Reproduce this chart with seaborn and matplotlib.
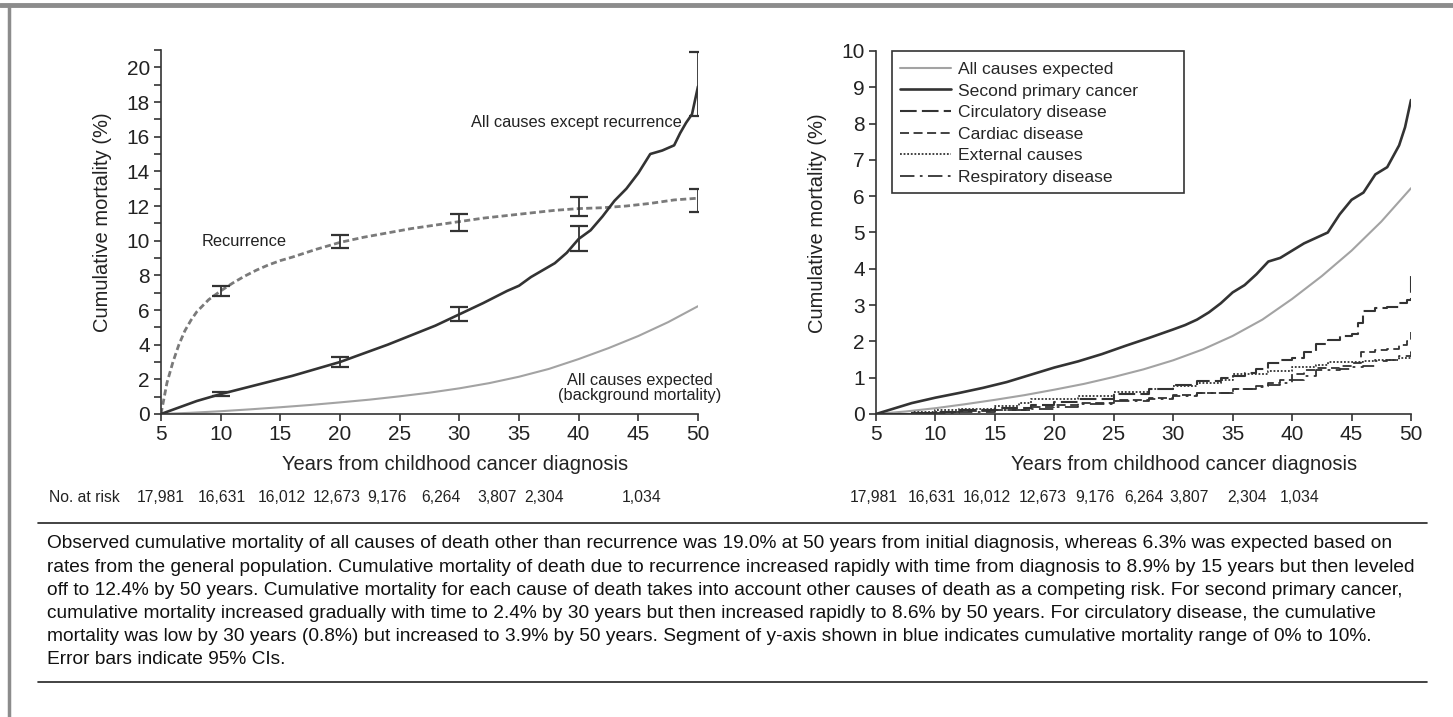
import numpy as np
import pandas as pd
import matplotlib
matplotlib.use("Agg")
import matplotlib.pyplot as plt
from matplotlib.lines import Line2D
from matplotlib.patches import Rectangle
import seaborn as sns

# ---- data ----
ticks_years = [5, 10, 15, 20, 25, 30, 35, 40, 45, 50]

exp_x = [5, 7.5, 10, 12.5, 15, 17.5, 20, 22.5, 25, 27.5, 30, 32.5, 35, 37.5, 40, 42.5, 45, 47.5, 50]
exp_y = [0, 0.07, 0.16, 0.27, 0.39, 0.52, 0.67, 0.83, 1.02, 1.23, 1.48, 1.78, 2.15, 2.6, 3.17, 3.8, 4.5, 5.3, 6.22]

other_x = [5, 6, 7, 8, 9, 10, 12, 14, 16, 18, 20, 22, 24, 26, 28, 30, 32, 34, 35, 36, 37, 38, 39, 40,
           41, 42, 43, 44, 45, 46, 47, 48, 48.5, 49, 49.5, 50]
other_y = [0, 0.25, 0.5, 0.75, 0.95, 1.15, 1.5, 1.85, 2.2, 2.6, 3.0, 3.5, 4.0, 4.55, 5.1, 5.75, 6.4, 7.1,
           7.4, 7.9, 8.3, 8.7, 9.3, 10.1, 10.6, 11.4, 12.3, 13.0, 13.9, 15.0, 15.2, 15.5, 16.2, 16.8, 17.3, 18.9]

recur_x = [5, 5.5, 6, 6.5, 7, 7.5, 8, 9, 10, 11, 12, 13, 14, 15, 16, 18, 20, 22, 24, 26, 28, 30, 32, 34,
           36, 38, 40, 42, 44, 46, 48, 50]
recur_y = [0, 1.8, 3.0, 4.0, 4.8, 5.4, 5.9, 6.6, 7.1, 7.55, 7.95, 8.3, 8.6, 8.85, 9.05, 9.5, 9.9, 10.2,
           10.45, 10.7, 10.9, 11.1, 11.3, 11.45, 11.6, 11.75, 11.85, 11.9, 12.0, 12.15, 12.35, 12.45]

ci_x = [10, 20, 30, 40, 50]
other_lo = [1.05, 2.7, 5.35, 9.4, 17.2]
other_hi = [1.25, 3.3, 6.2, 10.85, 20.9]
recur_lo = [6.8, 9.55, 10.55, 11.4, 11.65]
recur_hi = [7.4, 10.3, 11.55, 12.5, 13.0]

spc_x = [5, 6, 7, 8, 10, 12, 14, 16, 18, 20, 22, 24, 26, 28, 30, 31, 32, 33, 34, 35, 36, 37, 38, 39,
         40, 41, 42, 43, 44, 45, 46, 47, 48, 49, 49.5, 50]
spc_y = [0, 0.1, 0.2, 0.3, 0.45, 0.58, 0.72, 0.88, 1.08, 1.28, 1.45, 1.65, 1.88, 2.1, 2.33, 2.45, 2.6,
         2.8, 3.05, 3.35, 3.55, 3.85, 4.2, 4.3, 4.5, 4.7, 4.85, 5.0, 5.5, 5.9, 6.1, 6.6, 6.8, 7.4, 7.9, 8.65]

circ_x = [5, 8, 10, 12, 15, 18, 20, 22, 25, 28, 30, 32, 34, 35, 36, 37, 38, 39, 40, 41, 42, 43, 44, 45,
          45.5, 46, 47, 48, 49, 49.7, 50]
circ_y = [0, 0.03, 0.06, 0.1, 0.16, 0.25, 0.32, 0.42, 0.55, 0.68, 0.8, 0.9, 0.98, 1.05, 1.12, 1.25, 1.4,
          1.48, 1.55, 1.72, 1.92, 2.05, 2.15, 2.2, 2.5, 2.85, 2.92, 2.95, 3.05, 3.15, 3.9]

card_x = [5, 8, 10, 12, 15, 18, 20, 22, 25, 28, 30, 32, 35, 37, 38, 39, 40, 41, 42, 44, 45, 45.8, 47,
          48, 49, 49.7, 50]
card_y = [0, 0.02, 0.05, 0.08, 0.12, 0.2, 0.25, 0.3, 0.38, 0.45, 0.52, 0.58, 0.7, 0.78, 0.85, 0.95,
          1.1, 1.2, 1.28, 1.33, 1.4, 1.7, 1.75, 1.8, 1.9, 2.0, 2.25]

ext_x = [5, 8, 10, 12, 15, 17, 18, 20, 22, 25, 28, 30, 32, 34, 35, 38, 40, 42, 43, 46, 47, 49, 50]
ext_y = [0, 0.05, 0.1, 0.15, 0.22, 0.3, 0.4, 0.42, 0.5, 0.6, 0.7, 0.78, 0.85, 0.95, 1.1, 1.18, 1.3,
         1.35, 1.42, 1.45, 1.48, 1.55, 1.75]

resp_x = [5, 8, 10, 12, 15, 18, 20, 22, 25, 28, 30, 32, 35, 37, 38, 39, 40, 41, 42, 44, 45, 46, 47,
          48, 49, 50]
resp_y = [0, 0.02, 0.04, 0.06, 0.1, 0.15, 0.2, 0.27, 0.35, 0.42, 0.5, 0.58, 0.68, 0.75, 0.8, 0.85,
          0.95, 1.05, 1.2, 1.25, 1.3, 1.32, 1.45, 1.5, 1.6, 1.7]

at_risk = ["17,981", "16,631", "16,012", "12,673", "9,176", "6,264", "3,807", "2,304", "1,034"]
at_risk_pos_left = [5.0, 10.1, 15.1, 19.7, 23.9, 28.5, 33.2, 37.1, 45.3]
at_risk_pos_right = [4.8, 9.7, 14.3, 19.0, 23.4, 27.5, 31.3, 36.2, 40.6]

caption = [
    "Observed cumulative mortality of all causes of death other than recurrence was 19.0% at 50 years from initial diagnosis, whereas 6.3% was expected based on",
    "rates from the general population. Cumulative mortality of death due to recurrence increased rapidly with time from diagnosis to 8.9% by 15 years but then leveled",
    "off to 12.4% by 50 years. Cumulative mortality for each cause of death takes into account other causes of death as a competing risk. For second primary cancer,",
    "cumulative mortality increased gradually with time to 2.4% by 30 years but then increased rapidly to 8.6% by 50 years. For circulatory disease, the cumulative",
    "mortality was low by 30 years (0.8%) but increased to 3.9% by 50 years. Segment of y-axis shown in blue indicates cumulative mortality range of 0% to 10%.",
    "Error bars indicate 95% CIs.",
]

sns.set_style("ticks")
plt.rcParams["font.family"] = ["Liberation Sans", "DejaVu Sans"]

DARK = "#333333"
GREY = "#a3a3a3"
W, H = 1453, 717

fig = plt.figure(figsize=(W / 100, H / 100), dpi=100)
ax1 = fig.add_axes([161 / W, 1 - 414 / H, 537 / W, 364 / H])
ax2 = fig.add_axes([876 / W, 1 - 414 / H, 535 / W, 363 / H])

# ---- left panel ----
sns.lineplot(x=exp_x, y=exp_y, ax=ax1, color=GREY, lw=1.5)
sns.lineplot(x=recur_x, y=recur_y, ax=ax1, color="#7a7a7a", lw=2.0, linestyle=(0, (2.2, 1.2)))
sns.lineplot(x=other_x, y=other_y, ax=ax1, color=DARK, lw=1.9)

o_lo, o_hi = np.array(other_lo), np.array(other_hi)
r_lo, r_hi = np.array(recur_lo), np.array(recur_hi)
ax1.errorbar(ci_x, (o_lo + o_hi) / 2, yerr=(o_hi - o_lo) / 2, fmt="none", ecolor=DARK,
             elinewidth=1.3, capsize=6.5, capthick=1.6)
ax1.errorbar(ci_x, (r_lo + r_hi) / 2, yerr=(r_hi - r_lo) / 2, fmt="none", ecolor=DARK,
             elinewidth=1.3, capsize=6.5, capthick=1.6)

ax1.set_xlim(5, 50)
ax1.set_ylim(0, 21)
ax1.set_xticks(ticks_years)
ax1.set_yticks(np.arange(0, 21, 2))
ax1.set_yticks(np.arange(1, 22, 2), minor=True)
ax1.text(48.6, 16.8, "All causes except recurrence", ha="right", va="center", fontsize=11.8, color="#222")
ax1.text(8.4, 9.95, "Recurrence", ha="left", va="center", fontsize=11.8, color="#222")
ax1.text(45.1, 1.5, "All causes expected\n(background mortality)", ha="center", va="center",
         fontsize=11.8, color="#222", linespacing=1.05, clip_on=False)

# ---- right panel ----
sns.lineplot(x=exp_x, y=exp_y, ax=ax2, color=GREY, lw=1.5, label="All causes expected")
sns.lineplot(x=spc_x, y=spc_y, ax=ax2, color=DARK, lw=1.9, label="Second primary cancer")
sns.lineplot(x=circ_x, y=circ_y, ax=ax2, color=DARK, lw=1.5, drawstyle="steps-post",
             linestyle=(0, (8, 2.5)), label="Circulatory disease")
sns.lineplot(x=card_x, y=card_y, ax=ax2, color=DARK, lw=1.3, drawstyle="steps-post",
             linestyle=(0, (5, 2.5)), label="Cardiac disease")
sns.lineplot(x=ext_x, y=ext_y, ax=ax2, color=DARK, lw=1.3, drawstyle="steps-post",
             linestyle=(0, (1, 1)), label="External causes")
sns.lineplot(x=resp_x, y=resp_y, ax=ax2, color=DARK, lw=1.3, drawstyle="steps-post",
             linestyle=(0, (8, 3, 1.5, 3)), label="Respiratory disease")

ax2.set_xlim(5, 50)
ax2.set_ylim(0, 10)
ax2.set_xticks(ticks_years)
ax2.set_yticks(range(0, 11))
ax2.add_patch(Rectangle((16 / 535, 0.6096), 292 / 535, 0.3912, transform=ax2.transAxes,
                        fill=True, facecolor="white", edgecolor=DARK, lw=1.2, clip_on=False, zorder=4))
leg = ax2.legend(loc="upper left", bbox_to_anchor=(0.03, 0.992), borderaxespad=0, fontsize=12.6,
                 handlelength=2.9, handletextpad=0.4, labelspacing=0.36, borderpad=0.45,
                 frameon=False)
leg.set_zorder(5)

for ax, lx in ((ax1, 0.547), (ax2, 0.576)):
    sns.despine(ax=ax)
    for s in ("left", "bottom"):
        ax.spines[s].set_color(DARK)
        ax.spines[s].set_linewidth(1.2)
    ax.tick_params(which="both", direction="out", length=5, width=1.2, color=DARK,
                   labelsize=15, labelcolor="#222", pad=3)
    ax.set_xlabel("Years from childhood cancer diagnosis", fontsize=14.5, color="#222")
    ax.set_ylabel("Cumulative mortality (%)", fontsize=14.5, color="#222")
    ax.xaxis.set_label_coords(lx, -0.112)
    ax.yaxis.set_label_coords(-0.092, 0.527)

# ---- number at risk rows ----
fig.text(49 / W, 1 - 497 / H, "No. at risk", ha="left", va="center", fontsize=11.3, color="#222")
for lab, xl, xr in zip(at_risk, at_risk_pos_left, at_risk_pos_right):
    ax1.text(xl, -0.23, lab, transform=ax1.get_xaxis_transform(), ha="center", va="center",
             fontsize=11.3, color="#222", clip_on=False)
    ax2.text(xr, -0.23, lab, transform=ax2.get_xaxis_transform(), ha="center", va="center",
             fontsize=11.3, color="#222", clip_on=False)

# ---- page frame, rules and caption ----
fig.add_artist(Line2D([0, 1], [1 - 5 / H, 1 - 5 / H], color="#8c8c8c", lw=3.5))
fig.add_artist(Line2D([9 / W, 9 / W], [0, 1 - 5 / H], color="#8c8c8c", lw=2.5))
for yy in (523, 682):
    fig.add_artist(Line2D([38 / W, 1427 / W], [1 - yy / H, 1 - yy / H], color="#222", lw=1.2))
for i, line in enumerate(caption):
    fig.text(47 / W, 1 - (544 + i * 23.2) / H, line, ha="left", va="center", fontsize=13.75,
             color="#111")

fig.savefig("out.png", dpi=100)
